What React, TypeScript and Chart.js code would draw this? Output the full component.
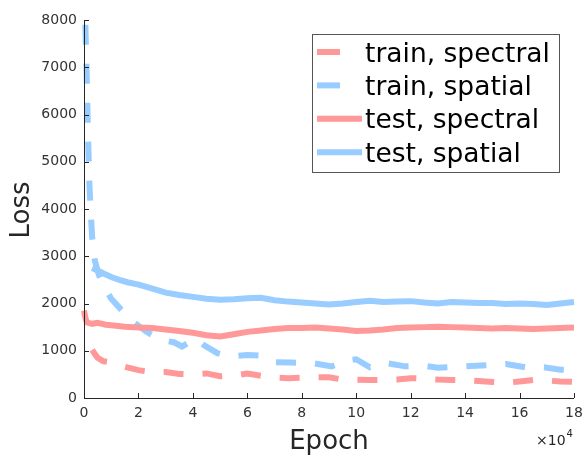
import React, { useEffect, useRef } from "react";
import { Chart, registerables } from "chart.js";

Chart.register(...registerables);

// Epoch values are in units of 10^4
const trainSpectralX = [0.3, 0.4, 0.5, 0.7, 0.9, 1.2, 1.5, 2.0, 2.5, 3.0, 3.5, 4.0, 4.5, 5.0, 5.5, 6.0, 6.5, 7.0, 7.5, 8.0, 8.5, 9.0, 9.5, 10.0, 10.5, 11.0, 11.5, 12.0, 12.5, 13.0, 13.5, 14.0, 14.5, 15.0, 15.5, 16.0, 16.5, 17.0, 17.5, 18.0];
const trainSpectralY = [1020, 930, 850, 780, 760, 720, 660, 590, 545, 550, 510, 500, 520, 460, 470, 520, 470, 430, 420, 430, 440, 440, 390, 385, 380, 380, 390, 420, 410, 390, 380, 380, 360, 340, 320, 350, 380, 370, 350, 340];

const trainSpatialX = [0.05, 0.1, 0.15, 0.2, 0.25, 0.3, 0.4, 0.55, 0.7, 1.0, 1.4, 1.8, 2.3, 2.8, 3.3, 3.6, 4.1, 4.4, 4.9, 5.35, 6.0, 6.45, 7.0, 7.6, 8.4, 9.1, 9.7, 10.0, 10.5, 11.1, 11.8, 12.5, 13.0, 13.7, 14.4, 15.0, 15.5, 16.3, 16.9, 17.5, 18.0];
const trainSpatialY = [7900, 6800, 5500, 4500, 3900, 3400, 2900, 2600, 2400, 2100, 1850, 1620, 1400, 1230, 1180, 1090, 1260, 1120, 950, 880, 910, 900, 760, 750, 740, 670, 800, 820, 650, 740, 670, 680, 640, 660, 680, 700, 720, 640, 650, 600, 590];

const testSpectralX = [0.0, 0.05, 0.1, 0.3, 0.5, 0.8, 1.0, 1.5, 2.0, 2.5, 3.0, 3.5, 4.0, 4.5, 5.0, 5.5, 6.0, 6.5, 7.0, 7.5, 8.0, 8.5, 9.0, 9.5, 10.0, 10.5, 11.0, 11.5, 12.0, 12.5, 13.0, 13.5, 14.0, 14.5, 15.0, 15.5, 16.0, 16.5, 17.0, 17.5, 18.0];
const testSpectralY = [1850, 1700, 1600, 1570, 1590, 1550, 1540, 1510, 1490, 1480, 1450, 1420, 1380, 1330, 1300, 1350, 1400, 1430, 1460, 1480, 1480, 1490, 1470, 1450, 1420, 1430, 1450, 1480, 1490, 1500, 1510, 1500, 1490, 1480, 1470, 1480, 1470, 1460, 1470, 1480, 1490];

const testSpatialX = [0.3, 0.5, 0.7, 1.0, 1.3, 1.6, 2.0, 2.3, 2.6, 3.0, 3.5, 4.0, 4.5, 5.0, 5.5, 6.0, 6.5, 7.0, 7.5, 8.0, 8.5, 9.0, 9.5, 10.0, 10.5, 11.0, 11.5, 12.0, 12.5, 13.0, 13.5, 14.0, 14.5, 15.0, 15.5, 16.0, 16.5, 17.0, 17.5, 18.0];
const testSpatialY = [2750, 2700, 2640, 2560, 2500, 2450, 2400, 2350, 2300, 2230, 2180, 2140, 2100, 2080, 2090, 2110, 2120, 2070, 2040, 2020, 2000, 1980, 2000, 2030, 2060, 2030, 2040, 2050, 2020, 2000, 2030, 2020, 2010, 2010, 1990, 2000, 1990, 1970, 2000, 2030];

const seriesLabels = ["train, spectral", "train, spatial", "test, spectral", "test, spatial"];
const xTicks = [0, 2, 4, 6, 8, 10, 12, 14, 16, 18];
const yTicks = [0, 1000, 2000, 3000, 4000, 5000, 6000, 7000, 8000];

const RED = "#ff9999";
const BLUE = "#99ccff";
const AXIS = "#262626";
const FONT = "'DejaVu Sans', sans-serif";

const pts = (xs: number[], ys: number[]) => xs.map((x, i) => ({ x, y: ys[i] }));

export default function App() {
  const ref = useRef<HTMLCanvasElement | null>(null);

  useEffect(() => {
    document.body.style.margin = "0";
    const canvas = ref.current;
    if (!canvas) return;

    const decor = {
      id: "decor",
      afterDraw(chart: any) {
        const c = chart.ctx as CanvasRenderingContext2D;
        const { left, right, top, bottom } = chart.chartArea;
        const xs = chart.scales.x;
        const ys = chart.scales.y;
        c.save();
        // axes
        c.strokeStyle = AXIS;
        c.lineWidth = 1;
        c.setLineDash([]);
        c.beginPath();
        c.moveTo(Math.round(left) + 0.5, top);
        c.lineTo(Math.round(left) + 0.5, Math.round(bottom) + 0.5);
        c.lineTo(right, Math.round(bottom) + 0.5);
        c.stroke();
        // ticks (inward)
        c.beginPath();
        yTicks.forEach((v) => {
          const y = Math.round(ys.getPixelForValue(v)) + 0.5;
          c.moveTo(left, y);
          c.lineTo(left + 5, y);
        });
        xTicks.forEach((v) => {
          const x = Math.round(xs.getPixelForValue(v)) + 0.5;
          c.moveTo(x, bottom);
          c.lineTo(x, bottom - 5);
        });
        c.stroke();

        // axis titles
        c.fillStyle = AXIS;
        c.font = `26px ${FONT}`;
        c.textAlign = "center";
        c.textBaseline = "alphabetic";
        c.fillText("Epoch", (left + right) / 2, 449);
        c.save();
        c.translate(29, 210);
        c.rotate(-Math.PI / 2);
        c.fillText("Loss", 0, 0);
        c.restore();

        // x10^4 multiplier
        c.textAlign = "left";
        c.font = `14px ${FONT}`;
        c.fillText("\u00d710", 536, 445);
        const w = c.measureText("\u00d710").width;
        c.font = `10px ${FONT}`;
        c.fillText("4", 536 + w + 1, 437);

        // legend
        const bx = 312, by = 34, bw = 247, bh = 138;
        c.fillStyle = "#ffffff";
        c.fillRect(bx, by, bw, bh);
        c.strokeStyle = "#555555";
        c.lineWidth = 1;
        c.strokeRect(bx + 0.5, by + 0.5, bw, bh);
        const colors = [RED, BLUE, RED, BLUE];
        const dashed = [true, true, false, false];
        seriesLabels.forEach((lab, i) => {
          const base = 61.5 + i * 33.4;
          const ly = base - 9.5;
          c.strokeStyle = colors[i];
          c.lineWidth = 6;
          c.lineCap = "butt";
          c.beginPath();
          c.moveTo(317, ly);
          c.lineTo(dashed[i] ? 340 : 362, ly);
          c.stroke();
          c.fillStyle = "#000000";
          c.font = `26.5px ${FONT}`;
          c.textAlign = "left";
          c.fillText(lab, 365, base);
        });
        c.restore();
      },
    };

    const mk = (label: string, data: any, color: string, dash: number[]) => ({
      label,
      data,
      borderColor: color,
      backgroundColor: color,
      borderWidth: 6,
      borderDash: dash,
      pointRadius: 0,
      tension: 0,
      fill: false,
      clip: false as any,
    });

    const chart = new Chart(canvas, {
      type: "line",
      data: {
        datasets: [
          mk(seriesLabels[3], pts(testSpatialX, testSpatialY), BLUE, []),
          mk(seriesLabels[2], pts(testSpectralX, testSpectralY), RED, []),
          mk(seriesLabels[1], pts(trainSpatialX, trainSpatialY), BLUE, [20, 19]),
          mk(seriesLabels[0], pts(trainSpectralX, trainSpectralY), RED, [20, 19]),
        ],
      },
      options: {
        responsive: false,
        animation: false,
        devicePixelRatio: 1,
        layout: { padding: { top: 20, right: 10, left: 0, bottom: 0 } },
        plugins: { legend: { display: false }, tooltip: { enabled: false } },
        scales: {
          x: {
            type: "linear",
            min: 0,
            max: 18,
            grid: { display: false, drawTicks: false },
            border: { display: false },
            afterBuildTicks: (s: any) => {
              s.ticks = xTicks.map((v) => ({ value: v }));
            },
            afterFit: (s: any) => {
              s.height = 58;
              s.paddingLeft = 0;
              s.paddingRight = 0;
            },
            ticks: {
              autoSkip: false,
              maxRotation: 0,
              padding: 7,
              color: "#333333",
              font: { family: FONT, size: 14 },
            },
          },
          y: {
            type: "linear",
            min: 0,
            max: 8000,
            grid: { display: false, drawTicks: false },
            border: { display: false },
            afterBuildTicks: (s: any) => {
              s.ticks = yTicks.map((v) => ({ value: v }));
            },
            afterFit: (s: any) => {
              s.width = 84;
              s.paddingTop = 0;
              s.paddingBottom = 0;
            },
            ticks: {
              autoSkip: false,
              padding: 7,
              color: "#333333",
              font: { family: FONT, size: 14 },
              callback: (v: any) => String(v),
            },
          },
        },
      },
      plugins: [decor],
    });

    return () => chart.destroy();
  }, []);

  return (
    <div style={{ width: 584, height: 456 }}>
      <canvas ref={ref} width={584} height={456} style={{ width: 584, height: 456, display: "block" }} />
    </div>
  );
}
